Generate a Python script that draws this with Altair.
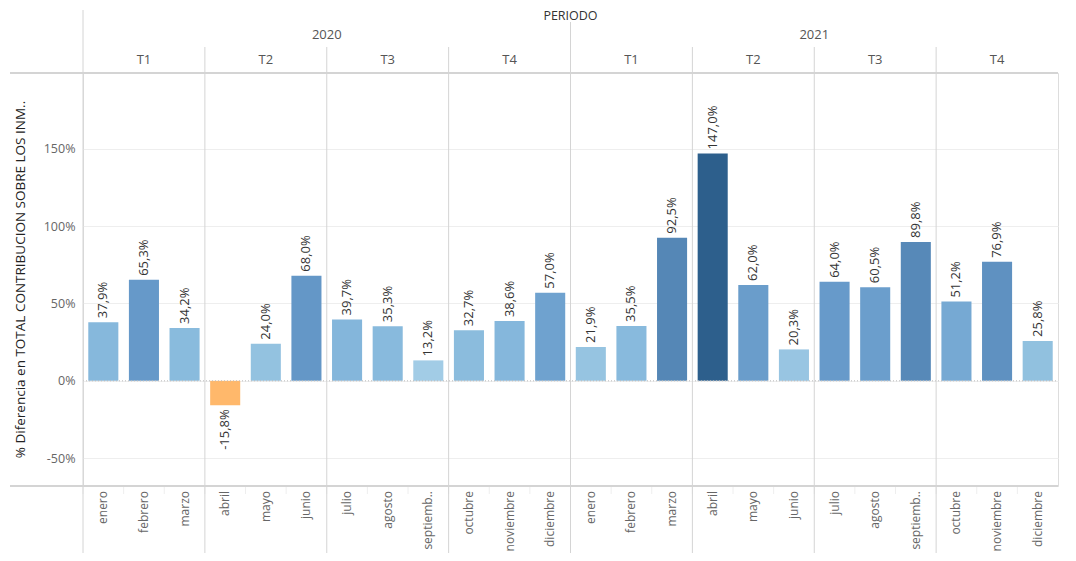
import altair as alt
import pandas as pd

# ---------------- data ----------------
years = ["2020"] * 12 + ["2021"] * 12
month_names = ["enero", "febrero", "marzo", "abril", "mayo", "junio",
               "julio", "agosto", "septiemb..", "octubre", "noviembre", "diciembre"]
month_nums = list(range(1, 13)) * 2
values = [37.9, 65.3, 34.2, -15.8, 24.0, 68.0, 39.7, 35.3, 13.2, 32.7, 38.6, 57.0,
          21.9, 35.5, 92.5, 147.0, 62.0, 20.3, 64.0, 60.5, 89.8, 51.2, 76.9, 25.8]
quarter_labels = ["T1", "T2", "T3", "T4"]
year_labels = ["2020", "2021"]
y_ticks = [-50, 0, 50, 100, 150]
y_title = "% Diferencia en TOTAL CONTRIBUCION SOBRE LOS INM.."
header_title = "PERIODO"

keys = [f"{y}-{m:02d}" for y, m in zip(years, month_nums)]
df = pd.DataFrame({"key": keys, "mes": month_names * 2, "valor": values})

# header helper tables
q_mid = pd.DataFrame({
    "key": [f"{y}-{m:02d}" for y in year_labels for m in (2, 5, 8, 11)],
    "lbl": quarter_labels * 2,
})
q_start = pd.DataFrame({"key": [f"{y}-{m:02d}" for y in year_labels for m in (4, 7, 10)]})
y_start = pd.DataFrame({"key": ["2021-01"]})
y_mid = pd.DataFrame({"key": [f"{y}-07" for y in year_labels], "lbl": year_labels})
periodo = pd.DataFrame({"key": ["2021-01"], "lbl": [header_title]})
one = pd.DataFrame({"z": [0]})

W, H = 975, 413
FONT = "Open Sans"
LINE = "#d4d4d4"

x_scale = alt.Scale(paddingInner=0, paddingOuter=0)
y_scale = alt.Scale(domain=[-68, 199], nice=False, zero=False)


def X(bp=None, axis=None):
    if bp is None:
        return alt.X("key:N", scale=x_scale, sort="ascending", axis=axis)
    return alt.X("key:N", scale=x_scale, sort="ascending", axis=axis, bandPosition=bp)


bars = alt.Chart(df).mark_bar(width=alt.RelativeBandSize(0.74)).encode(
    x=X(axis=alt.Axis(title=None, labels=False, domain=False, ticks=False, grid=False)),
    y=alt.Y("valor:Q", scale=y_scale,
            axis=alt.Axis(values=y_ticks, labelExpr="datum.value + '%'", title=y_title,
                          titleAngle=270, titleX=-63, titleY=206, titleAlign="center",
                          titleBaseline="middle", titleFont=FONT, titleFontSize=13.5,
                          titleFontWeight="normal", titleColor="#222222",
                          domain=False, ticks=False, grid=True, gridColor="#eeeeee",
                          labelPadding=8, labelColor="#666666", labelFont=FONT,
                          labelFontSize=12.5)),
    color=alt.Color("valor:Q", legend=None,
                    scale=alt.Scale(domain=[-15.8, 13.2, 24.0, 37.9, 65.3, 92.5, 147.0],
                                    range=["#ffb86b", "#a2cce6", "#93c2e0", "#86b8dc",
                                           "#6699c9", "#5587b6", "#2d5f8c"])),
)

lbl_expr = "replace(replace(format(datum.valor, '.1f'), '.', ','), '\u2212', '-') + '%'"
labels_pos = alt.Chart(df).transform_filter("datum.valor >= 0").transform_calculate(
    lbl=lbl_expr).mark_text(angle=270, align="left", baseline="middle", dx=4,
                            font=FONT, fontSize=13, color="#333333").encode(
    x=X(), y=alt.Y("valor:Q", scale=y_scale), text="lbl:N")
labels_neg = alt.Chart(df).transform_filter("datum.valor < 0").transform_calculate(
    lbl=lbl_expr).mark_text(angle=270, align="right", baseline="middle", dx=-4,
                            font=FONT, fontSize=13, color="#333333").encode(
    x=X(), y=alt.Y("valor:Q", scale=y_scale), text="lbl:N")

month_text = alt.Chart(df).mark_text(angle=270, align="right", baseline="middle",
                                     font=FONT, fontSize=12, color="#666666").encode(
    x=X(), y=alt.value(H + 5), text="mes:N")

zero_line = alt.Chart(one).mark_rule(color="#bbbbbb", strokeDash=[1, 2], strokeWidth=1).encode(
    y=alt.Y("z:Q", scale=y_scale), x=alt.value(0), x2=alt.value(W))

# separators
q_rules = alt.Chart(q_start).mark_rule(color=LINE, strokeWidth=1).encode(
    x=X(bp=0), y=alt.value(-26), y2=alt.value(H + 80))
y_rule = alt.Chart(y_start).mark_rule(color=LINE, strokeWidth=1).encode(
    x=X(bp=0), y=alt.value(-51), y2=alt.value(H + 80))
left_rule = alt.Chart(one).mark_rule(color=LINE, strokeWidth=1).encode(
    x=alt.value(0), y=alt.value(-63), y2=alt.value(H + 80))
top_rule = alt.Chart(one).mark_rule(color=LINE, strokeWidth=2).encode(
    x=alt.value(-73), x2=alt.value(W), y=alt.value(0))
bot_rule = alt.Chart(one).mark_rule(color=LINE, strokeWidth=2).encode(
    x=alt.value(-73), x2=alt.value(W), y=alt.value(H))
month_ticks = alt.Chart(df).mark_rule(color="#eeeeee", strokeWidth=1).encode(
    x=X(bp=0), y=alt.value(H), y2=alt.value(H + 8))

q_text = alt.Chart(q_mid).mark_text(font=FONT, fontSize=13, color="#555555",
                                    baseline="middle").encode(
    x=X(), y=alt.value(-13), text="lbl:N")
y_text = alt.Chart(y_mid).mark_text(font=FONT, fontSize=13, color="#555555",
                                    baseline="middle").encode(
    x=X(bp=0), y=alt.value(-38), text="lbl:N")
p_text = alt.Chart(periodo).mark_text(font=FONT, fontSize=12.5, color="#333333",
                                      baseline="middle").encode(
    x=X(bp=0), y=alt.value(-57), text="lbl:N")

chart = alt.layer(
    bars, zero_line, month_ticks, q_rules, y_rule, left_rule, top_rule, bot_rule,
    labels_pos, labels_neg, month_text, q_text, y_text, p_text
).properties(
    width=W, height=H,
    autosize=alt.AutoSizeParams(type="none"),
    padding={"left": 75, "top": 65, "right": 10, "bottom": 67},
).configure_view(stroke=None).configure(background="white")

chart.save("out.html", embed_options={"renderer": "svg", "actions": False})
